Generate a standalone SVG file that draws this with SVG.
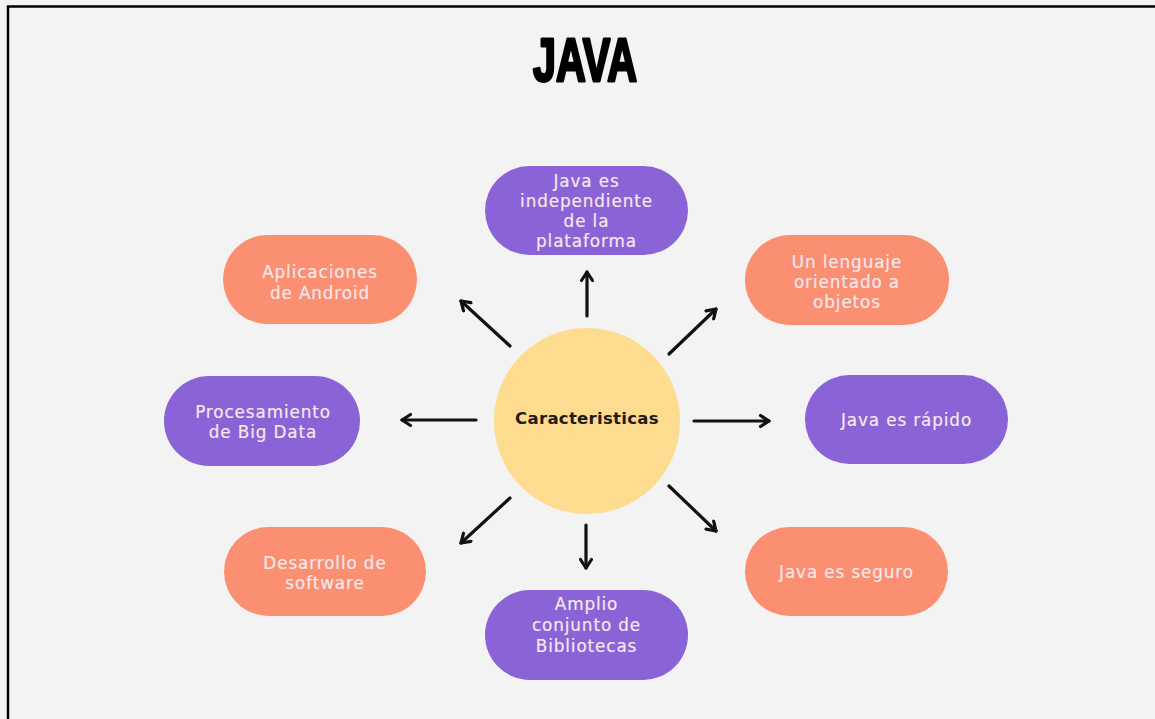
<svg xmlns="http://www.w3.org/2000/svg" width="1155" height="719" viewBox="0 0 1155 719">
  <defs>
    <marker id="head" viewBox="0 0 14 14" refX="11" refY="7" markerWidth="14" markerHeight="14" markerUnits="userSpaceOnUse" orient="auto">
      <path d="M2.5,1.5 L11,7 L2.5,12.5" fill="none" stroke="#111" stroke-width="3.2" stroke-linecap="round" stroke-linejoin="round"/>
    </marker>
    <style>
      .pill-purple { fill: #8a63d6; }
      .pill-salmon { fill: #fa8f72; }
      .label { font-family: "DejaVu Sans", "Open Sans", sans-serif; font-size: 16.8px; fill: #f6e8ec; stroke: #f6e8ec; stroke-width: 0.2px; text-anchor: middle; letter-spacing: 0.9px; }
      .arrow { stroke: #111; stroke-width: 3.2; fill: none; stroke-linecap: round; marker-end: url(#head); }
    </style>
  </defs>

  <!-- page background and frame -->
  <rect x="0" y="0" width="1155" height="719" fill="#f3f3f3"/>
  <path d="M8,719 L8,6.5 L1155,6.5" fill="none" stroke="#000" stroke-width="2.5"/>

  <!-- title -->
  <text x="585" y="81" text-anchor="middle" font-family="'Liberation Sans Narrow', 'Liberation Sans', sans-serif" font-weight="bold" font-size="61" textLength="104" lengthAdjust="spacingAndGlyphs" fill="#000" stroke="#000" stroke-width="3" stroke-linejoin="round">JAVA</text>

  <!-- connectors -->
  <g id="connectors">
    <line class="arrow" x1="587" y1="316" x2="587" y2="272"/>
    <line class="arrow" x1="510" y1="346" x2="461" y2="301"/>
    <line class="arrow" x1="669" y1="354" x2="716" y2="309"/>
    <line class="arrow" x1="476" y1="420" x2="402" y2="420"/>
    <line class="arrow" x1="694" y1="421" x2="769" y2="421"/>
    <line class="arrow" x1="510" y1="498" x2="461" y2="543"/>
    <line class="arrow" x1="586" y1="525" x2="586" y2="568"/>
    <line class="arrow" x1="669" y1="486" x2="716" y2="531"/>
  </g>

  <!-- central node -->
  <g id="node-caracteristicas">
    <circle cx="587" cy="421" r="93" fill="#fddb8f"/>
    <text x="587" y="424" text-anchor="middle" font-family="'DejaVu Sans', sans-serif" font-weight="bold" font-size="16.5" fill="#221a16" letter-spacing="0.3">Caracteristicas</text>
  </g>

  <g id="node-plataforma">
    <rect class="pill-purple" x="485" y="166" width="203" height="89" rx="44.5"/>
    <text class="label"><tspan x="586.5" y="187">Java es</tspan><tspan x="586.5" y="207">independiente</tspan><tspan x="586.5" y="227">de la</tspan><tspan x="586.5" y="247">plataforma</tspan></text>
  </g>

  <g id="node-android">
    <rect class="pill-salmon" x="223" y="235" width="194" height="89" rx="44.5"/>
    <text class="label"><tspan x="320" y="278">Aplicaciones</tspan><tspan x="320" y="299">de Android</tspan></text>
  </g>

  <g id="node-objetos">
    <rect class="pill-salmon" x="745" y="235" width="204" height="90" rx="45"/>
    <text class="label"><tspan x="847" y="268">Un lenguaje</tspan><tspan x="847" y="288">orientado a</tspan><tspan x="847" y="308">objetos</tspan></text>
  </g>

  <g id="node-bigdata">
    <rect class="pill-purple" x="164" y="376" width="196" height="90" rx="45"/>
    <text class="label"><tspan x="263" y="418">Procesamiento</tspan><tspan x="263" y="438">de Big Data</tspan></text>
  </g>

  <g id="node-rapido">
    <rect class="pill-purple" x="805" y="375" width="203" height="89" rx="44.5"/>
    <text class="label" x="906.5" y="426">Java es rápido</text>
  </g>

  <g id="node-software">
    <rect class="pill-salmon" x="224" y="527" width="202" height="89" rx="44.5"/>
    <text class="label"><tspan x="325" y="569">Desarrollo de</tspan><tspan x="325" y="589">software</tspan></text>
  </g>

  <g id="node-seguro">
    <rect class="pill-salmon" x="745" y="527" width="203" height="89" rx="44.5"/>
    <text class="label" x="846.5" y="578">Java es seguro</text>
  </g>

  <g id="node-bibliotecas">
    <rect class="pill-purple" x="485" y="590" width="203" height="90" rx="45"/>
    <text class="label"><tspan x="586.5" y="610">Amplio</tspan><tspan x="586.5" y="631">conjunto de</tspan><tspan x="586.5" y="652">Bibliotecas</tspan></text>
  </g>
</svg>
